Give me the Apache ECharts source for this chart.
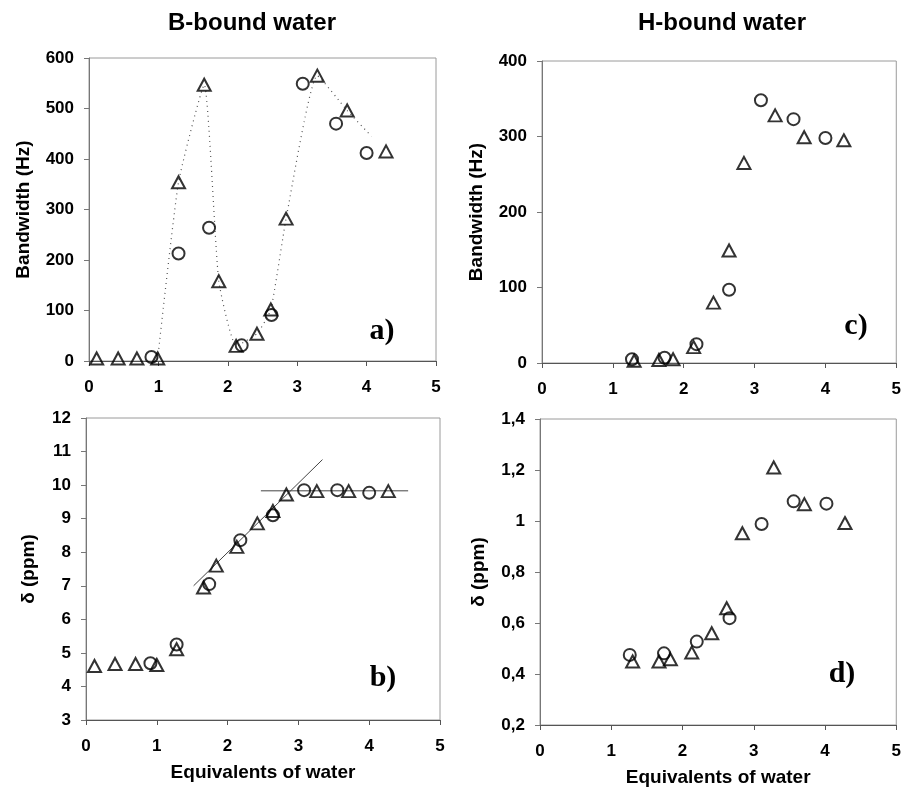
<!DOCTYPE html>
<html>
<head>
<meta charset="utf-8">
<script src="https://cdn.jsdelivr.net/npm/echarts@6/dist/echarts.min.js"></script>
<style>
  html, body { margin: 0; padding: 0; background: #fff; }
  #chart { width: 904px; height: 790px; }
</style>
</head>
<body>
<div id="chart"></div>
<script>
// panel a: B-bound water, bandwidth (Hz)
const aTriangles = [
  [0.11, 5], [0.42, 5], [0.69, 5], [0.99, 5], [1.29, 354], [1.66, 547],
  [1.87, 158], [2.12, 30], [2.42, 54], [2.62, 102], [2.84, 282],
  [3.29, 565], [3.72, 496], [4.28, 415]
];
const aCircles = [
  [0.90, 8], [1.29, 213], [1.73, 264], [2.20, 31], [2.63, 91],
  [3.08, 549], [3.56, 470], [4.00, 412]
];
// dotted guide curve as drawn in the figure
const aDotted = [
  [0.99, 5], [1.29, 354], [1.66, 547], [1.87, 158], [2.12, 30],
  [2.42, 54], [2.62, 102], [2.84, 282], [3.29, 565], [3.72, 496], [4.07, 445]
];

// panel b: B-bound water, shift (ppm)
const bTriangles = [
  [0.12, 4.61], [0.41, 4.67], [0.70, 4.67], [1.00, 4.64], [1.28, 5.11],
  [1.66, 6.95], [1.84, 7.60], [2.13, 8.16], [2.42, 8.86], [2.64, 9.23],
  [2.83, 9.72], [3.26, 9.82], [3.71, 9.82], [4.27, 9.82]
];
const bCircles = [
  [0.91, 4.69], [1.28, 5.25], [1.74, 7.05], [2.18, 8.36], [2.64, 9.10],
  [3.08, 9.85], [3.55, 9.85], [4.00, 9.77]
];
const bFitRise = [[1.52, 7.0], [3.34, 10.76]];
const bFitFlat = [[2.47, 9.83], [4.55, 9.83]];

// panel c: H-bound water, bandwidth (Hz)
const cTriangles = [
  [1.30, 3], [1.65, 4], [1.85, 5], [2.14, 21], [2.42, 80], [2.64, 149],
  [2.85, 265], [3.29, 328], [3.70, 299], [4.26, 295]
];
const cCircles = [
  [1.27, 5], [1.73, 7], [2.18, 25], [2.64, 97], [3.09, 348], [3.55, 323], [4.00, 298]
];

// panel d: H-bound water, shift (ppm)
const dTriangles = [
  [1.30, 0.449], [1.67, 0.449], [1.83, 0.458], [2.13, 0.484], [2.41, 0.56],
  [2.62, 0.658], [2.84, 0.952], [3.28, 1.21], [3.71, 1.066], [4.28, 0.992]
];
const dCircles = [
  [1.26, 0.475], [1.74, 0.481], [2.20, 0.527], [2.66, 0.619],
  [3.11, 0.988], [3.56, 1.077], [4.02, 1.068]
];

const columnTitles = ['B-bound water', 'H-bound water'];
const panelTags = ['a)', 'b)', 'c)', 'd)'];
const xTitle = 'Equivalents of water';
const bwTitle = 'Bandwidth (Hz)';
const ppmTitle = 'δ (ppm)';

const font = 'Liberation Sans, Arial, sans-serif';
const ink = '#000';

const grids = [
  { left: 89, top: 58, width: 347, height: 303 },
  { left: 86, top: 418, width: 354, height: 302 },
  { left: 542, top: 61, width: 358, height: 302 },
  { left: 540, top: 419, width: 358, height: 306 }
].map(g => Object.assign(g, { show: true, borderColor: '#9a9a9a', borderWidth: 1, backgroundColor: 'transparent' }));

function xAxis(i, withName) {
  return {
    type: 'value', gridIndex: i, min: 0, max: 5, interval: 1,
    name: withName ? xTitle : '', nameLocation: 'middle', nameGap: 43,
    nameTextStyle: { fontFamily: font, fontWeight: 'bold', fontSize: 19, color: ink },
    axisLine: { show: true, onZero: false, lineStyle: { color: '#555', width: 1 } },
    axisTick: { show: true, length: 5, lineStyle: { color: '#555' } },
    axisLabel: { margin: 18, fontFamily: font, fontWeight: 'bold', fontSize: 17, color: ink },
    splitLine: { show: false }
  };
}

function yAxis(i, min, max, interval, name, gap, fmt) {
  return {
    type: 'value', gridIndex: i, min: min, max: max, interval: interval,
    name: name, nameLocation: 'middle', nameGap: gap, nameRotate: 90,
    nameTextStyle: { fontFamily: font, fontWeight: 'bold', fontSize: 19, color: ink },
    axisLine: { show: true, onZero: false, lineStyle: { color: '#777', width: 1 } },
    axisTick: { show: true, length: 5, lineStyle: { color: '#777' } },
    axisLabel: { margin: 15, fontFamily: font, fontWeight: 'bold', fontSize: 17, color: ink, formatter: fmt },
    splitLine: { show: false }
  };
}

const commaFmt = v => String(+(+v).toFixed(1)).replace('.', ',');

function markers(i, data, shape) {
  return {
    type: 'scatter', xAxisIndex: i, yAxisIndex: i, data: data,
    symbol: shape, symbolSize: shape === 'triangle' ? [13, 12] : 12,
    itemStyle: { color: 'rgba(0,0,0,0)', borderColor: ink, borderWidth: 2 },
    z: 3, silent: true
  };
}

function line(i, data, type, width, smooth) {
  return {
    type: 'line', xAxisIndex: i, yAxisIndex: i, data: data,
    symbol: 'none', smooth: smooth || false,
    lineStyle: { color: type === 'solid' ? '#444' : '#555', width: width, type: type },
    z: 2, silent: true
  };
}

const tagPos = [[382, 331], [383, 678], [856, 326], [842, 674]];
const graphics = [
  { type: 'text', x: 252, y: 23, style: { text: columnTitles[0], font: 'bold 24px ' + font, fill: ink, textAlign: 'center', textVerticalAlign: 'middle' } },
  { type: 'text', x: 722, y: 23, style: { text: columnTitles[1], font: 'bold 24px ' + font, fill: ink, textAlign: 'center', textVerticalAlign: 'middle' } }
].concat(panelTags.map((t, k) => ({
  type: 'text', x: tagPos[k][0], y: tagPos[k][1],
  style: { text: t, font: 'bold 30px Liberation Serif, Times New Roman, serif', fill: ink, textAlign: 'center', textVerticalAlign: 'middle' }
})));

const chart = echarts.init(document.getElementById('chart'), null, { renderer: 'canvas' });
chart.setOption({
  animation: false,
  backgroundColor: '#fff',
  grid: grids,
  xAxis: [xAxis(0, false), xAxis(1, true), xAxis(2, false), xAxis(3, true)],
  yAxis: [
    yAxis(0, 0, 600, 100, bwTitle, 56),
    yAxis(1, 3, 12, 1, ppmTitle, 48),
    yAxis(2, 0, 400, 100, bwTitle, 56),
    yAxis(3, 0.2, 1.4, 0.2, ppmTitle, 52, commaFmt)
  ],
  graphic: graphics,
  series: [
    line(0, aDotted, [1, 4], 1.2, 0.15),
    markers(0, aTriangles, 'triangle'),
    markers(0, aCircles, 'circle'),
    line(1, bFitRise, 'solid', 1),
    line(1, bFitFlat, 'solid', 1),
    markers(1, bTriangles, 'triangle'),
    markers(1, bCircles, 'circle'),
    markers(2, cTriangles, 'triangle'),
    markers(2, cCircles, 'circle'),
    markers(3, dTriangles, 'triangle'),
    markers(3, dCircles, 'circle')
  ]
});
</script>
</body>
</html>
